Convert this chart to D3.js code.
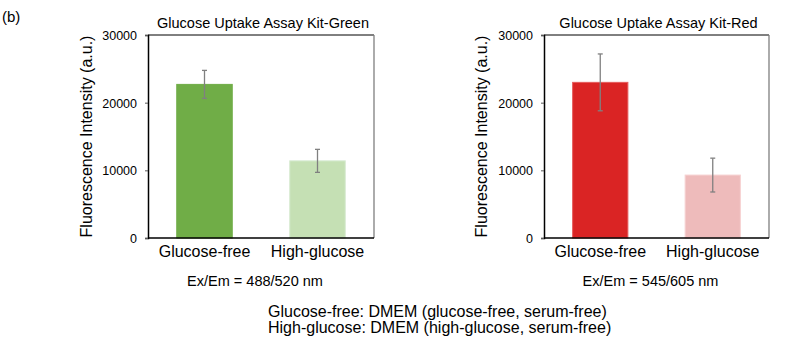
<!DOCTYPE html>
<html lang="en">
<head>
  <meta charset="UTF-8">
  <title>Glucose Uptake Assay</title>
  <script src="https://d3js.org/d3.v7.min.js"></script>
  <style>
    body { margin: 0; background: #fff; }
    text { font-family: "Liberation Sans", Arial, sans-serif; fill: #000; }
  </style>
</head>
<body>
  <svg width="800" height="351"></svg>
<script>
  // data
  const categories = ['Glucose-free', 'High-glucose'];
  const yTicks = [0, 10000, 20000, 30000];

  const greenValues = [22700, 11400];
  const greenErrors = [2070, 1700];
  const redValues = [23000, 9300];
  const redErrors = [4200, 2500];

  const panels = [
    {
      title: 'Glucose Uptake Assay Kit-Green',
      yLabel: 'Fluorescence Intensity  (a.u.)',
      exem: 'Ex/Em = 488/520 nm',
      values: greenValues, errors: greenErrors,
      colors: ['#70ad47', '#c5e0b4'], strokes: ['#70ad47', '#d6ead0'],
      left: 148, right: 374, labelX: 92
    },
    {
      title: 'Glucose Uptake Assay Kit-Red',
      yLabel: 'Fluorescence Intensity (a.u.)',
      exem: 'Ex/Em = 545/605 nm',
      values: redValues, errors: redErrors,
      colors: ['#da2424', '#eebbbb'], strokes: ['#e65c5c', '#f6d2d2'],
      left: 544, right: 769, labelX: 487
    }
  ];

  const svg = d3.select('svg');
  const plotTop = 35, plotBottom = 238;

  // (b) label
  svg.append('text').attr('x', 2).attr('y', 22).attr('font-size', '15px').text('(b)');

  panels.forEach(p => {
    const g = svg.append('g');
    const x = d3.scaleBand().domain(categories)
      .range([p.left, p.right]).paddingInner(0.5).paddingOuter(0.25);
    const y = d3.scaleLinear().domain([0, 30000]).range([plotBottom, plotTop]);

    // bars
    g.selectAll('.bar').data(p.values).join('rect')
      .attr('x', (d, i) => x(categories[i]) + 0.5)
      .attr('y', d => y(d))
      .attr('width', x.bandwidth() - 1)
      .attr('height', d => plotBottom - y(d))
      .attr('fill', (d, i) => p.colors[i])
      .attr('stroke', (d, i) => p.strokes[i])
      .attr('stroke-width', 1);

    // error bars
    const eb = g.selectAll('.err').data(p.values).join('g')
      .attr('stroke', '#808080').attr('stroke-width', 1.3);
    const cx = i => x(categories[i]) + x.bandwidth() / 2;
    eb.append('line')
      .attr('x1', (d, i) => cx(i)).attr('x2', (d, i) => cx(i))
      .attr('y1', (d, i) => y(d + p.errors[i])).attr('y2', (d, i) => y(d - p.errors[i]));
    eb.append('line')
      .attr('x1', (d, i) => cx(i) - 2.5).attr('x2', (d, i) => cx(i) + 2.5)
      .attr('y1', (d, i) => y(d + p.errors[i])).attr('y2', (d, i) => y(d + p.errors[i]));
    eb.append('line')
      .attr('x1', (d, i) => cx(i) - 2.5).attr('x2', (d, i) => cx(i) + 2.5)
      .attr('y1', (d, i) => y(d - p.errors[i])).attr('y2', (d, i) => y(d - p.errors[i]));

    // frame: top black, right gray
    g.append('line').attr('x1', p.left).attr('x2', p.right).attr('y1', plotTop).attr('y2', plotTop)
      .attr('stroke', '#000').attr('stroke-width', 1);
    g.append('line').attr('x1', p.right).attr('x2', p.right).attr('y1', plotTop).attr('y2', plotBottom)
      .attr('stroke', '#7f7f7f').attr('stroke-width', 1.3);

    // y axis
    const ya = g.append('g').attr('transform', `translate(${p.left},0)`)
      .call(d3.axisLeft(y).tickValues(yTicks).tickSize(3).tickPadding(8).tickFormat(d3.format('d')));
    ya.select('.domain').attr('stroke', '#000').attr('stroke-width', 1.5);
    ya.selectAll('.tick line').attr('stroke', '#595959');
    ya.selectAll('.tick text').attr('font-size', '12.5px').attr('font-family', null).attr('dy', '0.35em');

    // x axis
    const xa = g.append('g').attr('transform', `translate(0,${plotBottom})`)
      .call(d3.axisBottom(x).tickSize(0));
    xa.select('.domain').attr('stroke', '#000').attr('stroke-width', 1.5)
      .attr('d', `M${p.left},0H${p.right}`);
    xa.selectAll('.tick text').attr('font-size', '16px').attr('font-family', null)
      .attr('y', 19).attr('dy', 0);

    // title
    g.append('text').attr('x', (p.left + p.right) / 2 + 2).attr('y', 28)
      .attr('text-anchor', 'middle').attr('font-size', '14.5px').text(p.title);

    // y label
    g.append('text')
      .attr('transform', `translate(${p.labelX},${(plotTop + plotBottom) / 2}) rotate(-90)`)
      .attr('text-anchor', 'middle').attr('font-size', '16px').text(p.yLabel);

    // Ex/Em
    g.append('text').attr('x', (p.left + p.right) / 2 - 6).attr('y', 286)
      .attr('text-anchor', 'middle').attr('font-size', '14.5px').text(p.exem);
  });

  // footnote
  const notes = [
    'Glucose-free: DMEM (glucose-free, serum-free)',
    'High-glucose: DMEM (high-glucose, serum-free)'
  ];
  svg.selectAll('.note').data(notes).join('text')
    .attr('x', 268).attr('y', (d, i) => 317 + i * 16)
    .attr('font-size', '16px').text(d => d);
</script>
</body>
</html>
